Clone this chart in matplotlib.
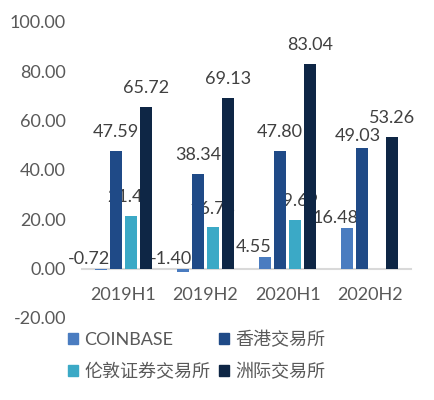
import numpy as np
import matplotlib
matplotlib.use("Agg")
import matplotlib.pyplot as plt
from matplotlib.patches import Patch

plt.rcParams['font.family'] = ['Lato', 'Noto Sans CJK SC', 'DejaVu Sans']

# datos
periodos = ['2019H1', '2019H2', '2020H1', '2020H2']
series = ['COINBASE', '香港交易所', '伦敦证券交易所', '洲际交易所']
coinbase = [-0.72, -1.40, 4.55, 16.48]
hkex = [47.59, 38.34, 47.80, 49.03]
lse = [21.43, 16.73, 19.69, np.nan]
ice = [65.72, 69.13, 83.04, 53.26]
yticks = [-20, 0, 20, 40, 60, 80, 100]

valores = [coinbase, hkex, lse, ice]
colores = ['#4A7CC0', '#1F4A87', '#3BA9C6', '#0E2645']

# ajustes de etiquetas (puntos), como en el original
desp = {(1, 3): (-3.5, 5)}

fig = plt.figure(figsize=(4.35, 4.0), dpi=100)
ax = fig.add_axes([82/435, 1 - 318/400, (411 - 82)/435, (318 - 22)/400])

x = np.arange(len(periodos))
paso = 0.182
ancho = 0.146
for k in range(4):
    pos = x + (k - 1.5)*paso
    ax.bar(pos, valores[k], ancho, color=colores[k], zorder=3)
    for i in range(len(periodos)):
        v = valores[k][i]
        if np.isnan(v):
            continue
        if k == 0:
            dx, dy = -8.6, 3.6   # coinbase: etiquetas desplazadas a la izquierda
        else:
            dx, dy = 0, 10
        dx, dy = desp.get((k, i), (dx, dy))
        ax.annotate('%.2f' % v, (pos[i], max(v, 0)), xytext=(dx, dy),
                    textcoords='offset points', ha='center', va='baseline',
                    fontsize=13, color='#404040', zorder=1)

ax.set_xlim(-0.5, 3.5)
ax.set_ylim(-20, 100)
ax.set_yticks(yticks)
ax.set_yticklabels(['%.2f' % t for t in yticks])
ax.set_xticks(x)
ax.set_xticklabels(periodos)
ax.tick_params(axis='both', length=0, labelsize=13, labelcolor='#595959')
ax.tick_params(axis='y', pad=11.5)
ax.tick_params(axis='x', pad=13)

for s in ['top', 'right', 'left']:
    ax.spines[s].set_visible(False)
ax.spines['bottom'].set_position(('data', 0))
ax.spines['bottom'].set_color('#D9D9D9')
ax.spines['bottom'].set_linewidth(1.5)
ax.spines['bottom'].set_zorder(2)

handles = [Patch(color=c) for c in colores]
orden = [0, 2, 1, 3]
fig.legend([handles[i] for i in orden], [series[i] for i in orden], ncol=2,
           loc='upper left', bbox_to_anchor=(59/435, 1 - 322/400),
           frameon=False, fontsize=13, labelcolor='#595959',
           handlelength=0.55, handleheight=0.55, handletextpad=0.35,
           columnspacing=0.5, labelspacing=0.8, borderpad=0)

fig.savefig('out.png', dpi=100)
